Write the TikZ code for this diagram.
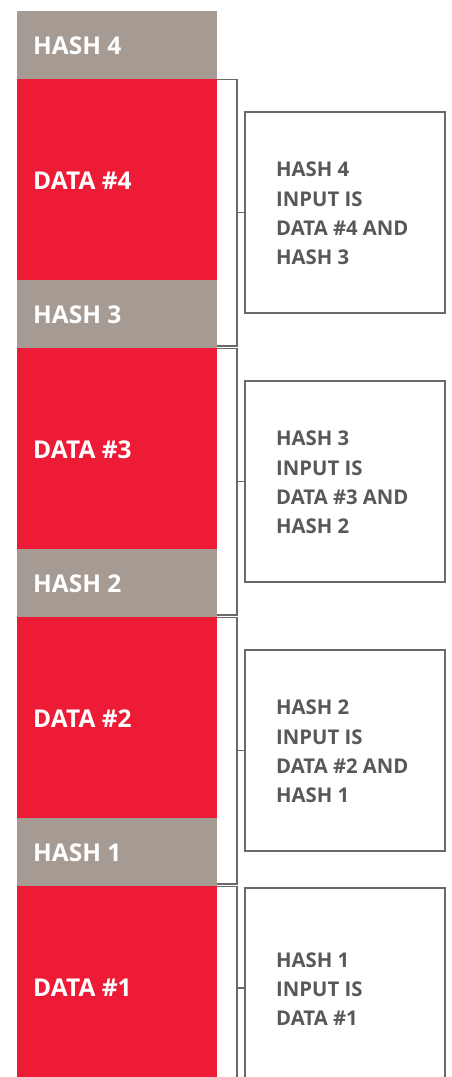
\documentclass[tikz,border=0pt]{standalone}
\usepackage{fontspec}
\setmainfont{Open Sans}
\usetikzlibrary{calc}
\definecolor{dred}{RGB}{237,27,54}
\definecolor{taupe}{RGB}{165,155,146}
\definecolor{txtgray}{RGB}{88,88,88}
\definecolor{linegray}{RGB}{105,105,105}
\begin{document}
\begin{tikzpicture}[x=1pt,y=-1pt,
  hashblk/.style={fill=taupe, minimum width=200pt, minimum height=68pt, inner sep=0pt, outer sep=0pt, anchor=north west},
  datablk/.style={fill=dred, minimum width=200pt, minimum height=201pt, inner sep=0pt, outer sep=0pt, anchor=north west},
  lbl/.style={text=white, font=\bfseries\fontsize{24.5}{25}\selectfont, anchor=west, inner sep=0pt},
  infobox/.style={draw=linegray, line width=1.1pt, minimum width=200pt, minimum height=201pt, anchor=north west, inner sep=0pt, outer sep=0pt},
  infotext/.style={text=txtgray, font=\bfseries\fontsize{20.3}{29.3}\selectfont, align=left, anchor=west, inner sep=0pt},
  brk/.style={draw=linegray, line width=1.1pt}]
\useasboundingbox (0,0) rectangle (451,1077);
\clip (0,0) rectangle (451,1077);
% column blocks
\foreach \k in {1,...,4} {
  \pgfmathsetmacro\ytop{11+269*(4-\k)}
  \node[hashblk] (hash\k) at (17,\ytop) {};
  \node[lbl] (hashlbl\k) at ([xshift=16pt,yshift=-1pt]hash\k.west) {HASH \k};
  \node[datablk] (data\k) at (hash\k.south west) {};
  \node[lbl] (datalbl\k) at ([xshift=16pt,yshift=-1pt]data\k.west) {DATA \#\k};
}
% info boxes
\node[infobox] (box4) at (245,112) {};
\node[infobox] (box3) at (245,381) {};
\node[infobox] (box2) at (245,650) {};
\node[infobox, minimum height=200pt] (box1) at (245,888) {};
\node[infotext] (txt4) at ([xshift=31pt,yshift=-1pt]box4.west) {HASH 4\\INPUT IS\\DATA \#4 AND\\HASH 3};
\node[infotext] (txt3) at ([xshift=31pt,yshift=-1pt]box3.west) {HASH 3\\INPUT IS\\DATA \#3 AND\\HASH 2};
\node[infotext] (txt2) at ([xshift=31pt,yshift=-1pt]box2.west) {HASH 2\\INPUT IS\\DATA \#2 AND\\HASH 1};
\node[infotext] (txt1) at ([xshift=31pt,yshift=-1pt]box1.west) {HASH 1\\INPUT IS\\DATA \#1};
% brackets
\draw[brk] ($(data4.north east)+(0,0.5)$) -- ++(20,0) |- ($(hash3.south east)+(0,-2)$);
\draw[brk] ($(data3.north east)+(0,0.5)$) -- ++(20,0) |- ($(hash2.south east)+(0,-2)$);
\draw[brk] ($(data2.north east)+(0,0.5)$) -- ++(20,0) |- ($(hash1.south east)+(0,-2)$);
\draw[brk] ($(data1.north east)+(0,0.5)$) -- ++(20,0) -- ($(data1.south east)+(20,20)$);
% ticks
\foreach \k in {1,...,4} {
  \draw[brk] (box\k.west) -- ++(-8,0);
}
\end{tikzpicture}
\end{document}
